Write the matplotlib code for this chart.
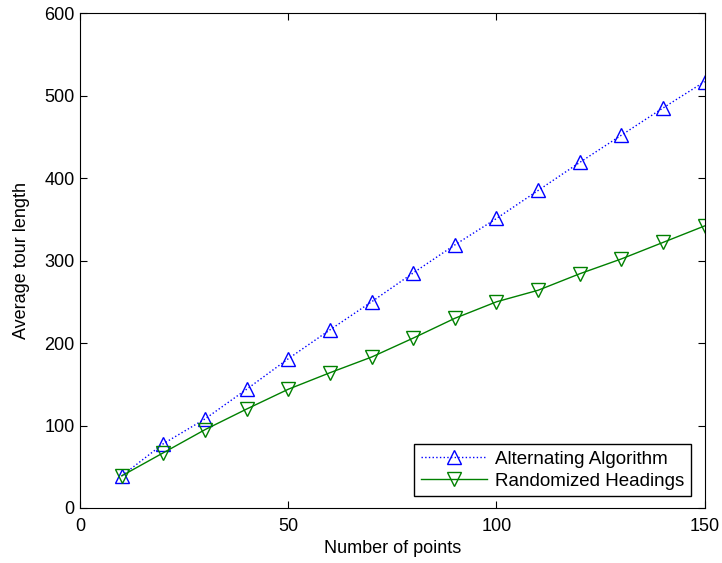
import matplotlib
matplotlib.use("Agg")
import matplotlib.pyplot as plt

# data
n_points = [10, 20, 30, 40, 50, 60, 70, 80, 90, 100, 110, 120, 130, 140, 150]
alternating = [39, 78, 108, 144, 181, 216, 250, 285, 319, 351, 385, 419, 452, 485, 517]
randomized = [39, 67, 95, 120, 144, 164, 183, 206, 230, 250, 264, 284, 302, 322, 342]

plt.rcParams["font.family"] = ["Liberation Sans", "DejaVu Sans"]

fig = plt.figure(figsize=(7.22, 5.63), dpi=100)
ax = fig.add_axes([0.111, 0.0977, 0.865, 0.879])

ax.plot(n_points, alternating, linestyle=":", marker="^", color="blue",
        markerfacecolor="none", markersize=10, linewidth=1,
        label="Alternating Algorithm")
ax.plot(n_points, randomized, linestyle="-", marker="v", color=(0, 0.5, 0),
        markerfacecolor="none", markersize=10, linewidth=1,
        label="Randomized Headings")

ax.set_xlim(0, 150)
ax.set_ylim(0, 600)
ax.set_xticks([0, 50, 100, 150])
ax.set_yticks([0, 100, 200, 300, 400, 500, 600])
ax.tick_params(direction="in", top=True, right=True, labelsize=13, length=5)
ax.tick_params(axis="x", pad=7.5)
ax.tick_params(axis="y", pad=4)
ax.set_xlabel("Number of points", fontsize=13, labelpad=3)
ax.set_ylabel("Average tour length", fontsize=13, labelpad=10)

leg = ax.legend(loc="lower right", bbox_to_anchor=(0.978, 0.024), fontsize=13.5,
                fancybox=False, framealpha=1, edgecolor="black",
                borderpad=0.35, handlelength=3.5, labelspacing=0.25,
                handletextpad=0.45, borderaxespad=0)
leg.get_frame().set_linewidth(1)

plt.savefig("out.png", dpi=100)
